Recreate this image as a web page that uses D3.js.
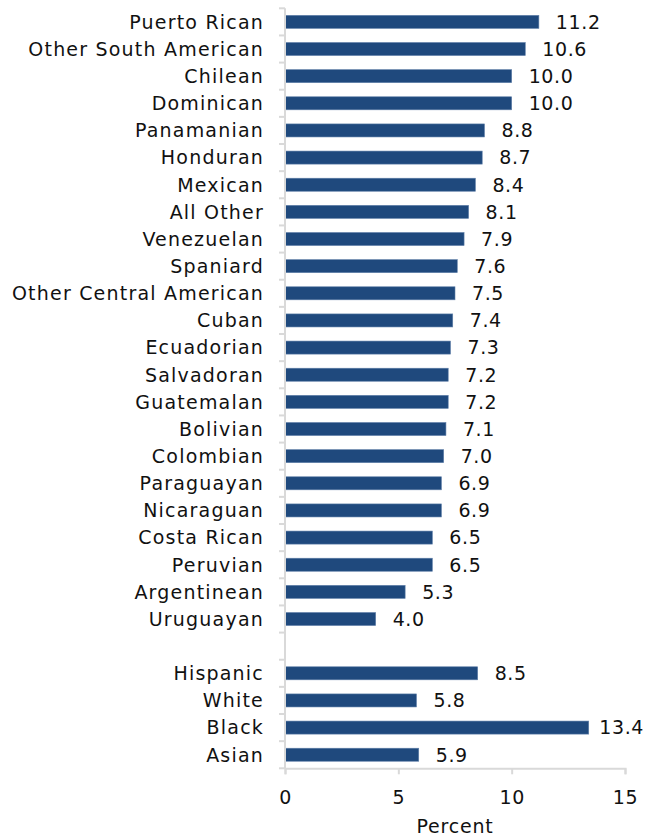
<!DOCTYPE html>
<html>
<head>
<meta charset="utf-8">
<script src="https://cdn.jsdelivr.net/npm/d3@7"></script>
<style>
  html, body { margin: 0; padding: 0; background: #fff; }
  svg { display: block; }
  text { font-family: "DejaVu Sans", Verdana, sans-serif; fill: #111; }
</style>
</head>
<body>
<svg id="chart" width="647" height="838"></svg>
<script>
// Hispanic origin groups, then comparison groups (blank slot separates them)
const groups = [
  "Puerto Rican", "Other South American", "Chilean", "Dominican", "Panamanian",
  "Honduran", "Mexican", "All Other", "Venezuelan", "Spaniard",
  "Other Central American", "Cuban", "Ecuadorian", "Salvadoran", "Guatemalan",
  "Bolivian", "Colombian", "Paraguayan", "Nicaraguan", "Costa Rican",
  "Peruvian", "Argentinean", "Uruguayan"
];
const groupValues = [
  11.2, 10.6, 10.0, 10.0, 8.8,
  8.7, 8.4, 8.1, 7.9, 7.6,
  7.5, 7.4, 7.3, 7.2, 7.2,
  7.1, 7.0, 6.9, 6.9, 6.5,
  6.5, 5.3, 4.0
];
const comparisons = ["Hispanic", "White", "Black", "Asian"];
const comparisonValues = [8.5, 5.8, 13.4, 5.9];
const xTicks = [0, 5, 10, 15];
const xTitle = "Percent";

const GAP = "__gap__";
const rows = groups.map((g, i) => ({ name: g, value: groupValues[i] }))
  .concat([{ name: GAP, value: null }])
  .concat(comparisons.map((g, i) => ({ name: g, value: comparisonValues[i] })));

const svg = d3.select("#chart");
const width = 647;
const plotLeft = 285, plotRight = 625, plotTop = 8.3, plotBottom = 768.3;
const axisColor = "#d9d9d9";
const barColor = "#1f497d";
const fontSize = 19;

const x = d3.scaleLinear().domain([0, 15]).range([plotLeft, plotRight]);
const y = d3.scaleBand().domain(rows.map(d => d.name)).range([plotTop, plotBottom]).paddingInner(0.52).paddingOuter(0.26);

// category boundary ticks on the vertical axis
const boundaries = d3.range(rows.length + 1).map(i => plotTop + i * (plotBottom - plotTop) / rows.length);
svg.append("g").selectAll("line").data(boundaries).join("line")
  .attr("x1", plotLeft - 6).attr("x2", plotLeft)
  .attr("y1", d => d).attr("y2", d => d)
  .attr("stroke", axisColor).attr("stroke-width", 2);

// bars
const data = rows.filter(d => d.value !== null);
svg.append("g").selectAll("rect").data(data).join("rect")
  .attr("x", x(0))
  .attr("y", d => y(d.name))
  .attr("width", d => x(d.value) - x(0))
  .attr("height", y.bandwidth())
  .attr("fill", barColor)
  .attr("stroke", "#5f7fa8").attr("stroke-width", 0.6);

// category labels
svg.append("g").selectAll("text").data(data).join("text")
  .attr("x", 264)
  .attr("y", d => y(d.name) + y.bandwidth() / 2)
  .attr("dy", "0.36em")
  .attr("text-anchor", "end")
  .attr("font-size", fontSize)
  .attr("letter-spacing", "1.2px")
  .text(d => d.name);

// value labels, pulled left when they would run past the right edge
svg.append("g").selectAll("text").data(data).join("text")
  .attr("y", d => y(d.name) + y.bandwidth() / 2)
  .attr("dy", "0.36em")
  .attr("font-size", fontSize)
  .attr("letter-spacing", "0.6px")
  .text(d => d.value.toFixed(1))
  .attr("x", function (d) {
    const w = this.getComputedTextLength();
    return Math.min(x(d.value) + 17, width - 3 - w);
  });

// vertical axis line
svg.append("line")
  .attr("x1", plotLeft).attr("x2", plotLeft).attr("y1", plotTop).attr("y2", plotBottom)
  .attr("stroke", axisColor).attr("stroke-width", 2);

// bottom axis
const xAxis = svg.append("g").attr("transform", `translate(0,${plotBottom})`)
  .call(d3.axisBottom(x).tickValues(xTicks).tickSize(6).tickPadding(16).tickFormat(d3.format("d")));
xAxis.select(".domain").attr("stroke", axisColor).attr("stroke-width", 2);
xAxis.selectAll(".tick line").attr("stroke", axisColor).attr("stroke-width", 2);
xAxis.selectAll(".tick text")
  .attr("font-family", "DejaVu Sans, Verdana, sans-serif")
  .attr("font-size", fontSize).attr("letter-spacing", "0.6px").attr("fill", "#111");

svg.append("text")
  .attr("x", x(7.5)).attr("y", 833)
  .attr("text-anchor", "middle")
  .attr("font-size", fontSize)
  .attr("letter-spacing", "0.8px")
  .text(xTitle);
</script>
</body>
</html>
